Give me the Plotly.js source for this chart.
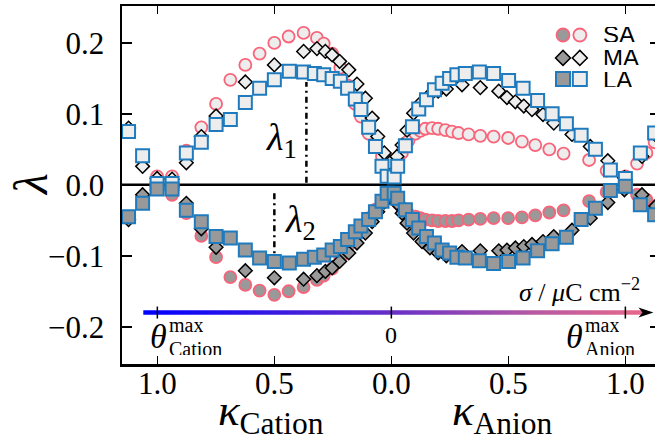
<!DOCTYPE html>
<html><head><meta charset="utf-8">
<script src="https://cdn.plot.ly/plotly-3.0.1.min.js"></script>
<style>html,body{margin:0;padding:0;overflow:hidden;background:#fff}#chart{width:665px;height:444px}</style>
</head><body><div id="chart"></div>
<script>
// kappa axis: negative values = cation side, positive = anion side
const saX = [-1.001,-0.937,-0.876,-0.812,-0.749,-0.688,-0.624,-0.563,-0.500,-0.439,-0.375,-0.318,-0.289,-0.253,-0.218,-0.187,-0.154,-0.130,-0.097,-0.068,-0.040,-0.015,
  0.015,0.030,0.045,0.058,0.073,0.103,0.124,0.145,0.174,0.200,0.231,0.259,0.287,0.330,0.380,0.437,0.499,0.558,0.615,0.675,0.736,0.845,0.920,1.000,1.050,1.090,1.125];
const saUpper = [0.012,0.012,0.048,0.081,0.114,0.148,0.169,0.185,0.200,0.209,0.214,0.207,0.199,0.185,0.165,0.140,0.114,0.096,0.072,0.053,0.040,0.034,
  0.025,0.035,0.045,0.054,0.062,0.072,0.076,0.079,0.080,0.079,0.077,0.075,0.073,0.071,0.069,0.068,0.066,0.061,0.056,0.050,0.044,0.035,0.020,0.012,0.030,0.045,0.060];
const saLower = [-0.006,-0.014,-0.040,-0.072,-0.102,-0.130,-0.141,-0.149,-0.155,-0.150,-0.144,-0.134,-0.128,-0.118,-0.103,-0.088,-0.072,-0.062,-0.047,-0.035,-0.024,-0.015,
  -0.018,-0.026,-0.032,-0.037,-0.041,-0.045,-0.047,-0.049,-0.050,-0.051,-0.051,-0.051,-0.050,-0.049,-0.048,-0.047,-0.047,-0.046,-0.043,-0.039,-0.036,-0.023,-0.010,-0.003,-0.014,-0.021,-0.030];

const maX = [-1.123,-1.063,-1.001,-0.937,-0.876,-0.812,-0.749,-0.624,-0.500,-0.375,-0.318,-0.282,-0.253,-0.221,-0.182,-0.147,-0.111,-0.082,-0.058,-0.030,-0.006,
  0.024,0.046,0.067,0.095,0.131,0.165,0.200,0.235,0.302,0.380,0.459,0.494,0.530,0.566,0.601,0.648,0.694,0.772,0.850,0.925,0.996,1.071,1.130];
const maUpper = [0.080,0.026,0.009,0.008,0.031,0.068,0.097,0.145,0.169,0.188,0.192,0.188,0.183,0.174,0.162,0.142,0.122,0.094,0.068,0.045,0.031,
  0.040,0.056,0.077,0.101,0.117,0.127,0.132,0.135,0.141,0.137,0.132,0.123,0.117,0.111,0.106,0.099,0.087,0.071,0.054,0.034,0.010,0.040,0.070];
const maLower = [-0.049,-0.014,0.000,-0.002,-0.026,-0.062,-0.088,-0.121,-0.131,-0.133,-0.128,-0.122,-0.117,-0.108,-0.096,-0.082,-0.068,-0.052,-0.038,-0.024,-0.012,
  -0.026,-0.040,-0.054,-0.068,-0.080,-0.089,-0.096,-0.100,-0.094,-0.093,-0.093,-0.092,-0.089,-0.087,-0.084,-0.080,-0.073,-0.064,-0.047,-0.025,-0.007,-0.014,-0.030];

const laX = [-1.123,-1.063,-1.001,-0.937,-0.876,-0.812,-0.749,-0.688,-0.624,-0.563,-0.500,-0.436,-0.375,-0.329,-0.289,-0.253,-0.218,-0.187,-0.154,-0.130,
  -0.097,-0.068,-0.040,-0.018,0.012,0.027,0.060,0.090,0.117,0.150,0.184,0.217,0.249,0.280,0.316,0.376,0.437,0.501,0.563,0.625,0.687,0.748,0.811,0.872,0.936,1.000,1.064,1.125];
const laUpper = [0.075,0.041,0.002,0.002,0.045,0.060,0.085,0.092,0.116,0.136,0.148,0.160,0.159,0.157,0.155,0.150,0.146,0.136,0.121,0.106,
  0.081,0.054,0.026,0.012,0.011,0.026,0.055,0.082,0.107,0.120,0.134,0.143,0.150,0.155,0.157,0.159,0.157,0.147,0.136,0.119,0.100,0.086,0.070,0.050,0.021,0.009,0.045,0.073];
const laLower = [-0.045,-0.026,-0.006,-0.006,-0.036,-0.052,-0.073,-0.075,-0.092,-0.103,-0.108,-0.110,-0.105,-0.102,-0.099,-0.092,-0.087,-0.077,-0.066,-0.058,
  -0.049,-0.038,-0.023,-0.012,-0.012,-0.019,-0.035,-0.049,-0.061,-0.073,-0.082,-0.092,-0.096,-0.102,-0.103,-0.107,-0.111,-0.108,-0.103,-0.093,-0.083,-0.074,-0.049,-0.033,-0.008,-0.002,-0.028,-0.042];

const kappaTickVals = [-1, -0.5, 0, 0.5, 1];
const kappaTickText = ['1.0', '0.5', '0.0', '0.5', '1.0'];
const lambdaTickVals = [-0.2, -0.1, 0, 0.1, 0.2];
const lambdaTickText = ['\u22120.2', '\u22120.1', '0.0', '0.1', '0.2'];
const sigmaTickVals = [-1, 0, 1];
const seriesNames = ['SA', 'MA', 'LA'];

const PINK = '#f8647a', BLUE = '#1f7bbd', LIGHT = '#ededed', GRAY = '#999999';
const SERIF = 'Liberation Serif, DejaVu Serif, serif';
const SANS = 'Liberation Sans, Arial, sans-serif';

const styles = {
  SA: {symbol: 'circle', size: 12, edge: PINK, w: 1.8},
  MA: {symbol: 'diamond', size: 10.5, edge: '#000000', w: 1.5},
  LA: {symbol: 'square', size: 13, edge: BLUE, w: 2}
};
function pts(x, y, name, fill) {
  const s = styles[name];
  return {x: x, y: y, type: 'scatter', mode: 'markers', showlegend: false, hoverinfo: 'skip',
    marker: {symbol: s.symbol, size: s.size, color: fill, line: {color: s.edge, width: s.w}}};
}

const arrowY = -0.18;
const traces = [
  {x: [-1.06, 1.09, 1.09, -1.06, -1.06], y: [arrowY - 0.0032, arrowY - 0.0032, arrowY + 0.0032, arrowY + 0.0032, arrowY - 0.0032],
   type: 'scatter', mode: 'lines', fill: 'toself', line: {width: 0, color: 'rgba(0,0,0,0)'}, hoverinfo: 'skip', showlegend: false,
   fillgradient: {type: 'horizontal', colorscale: [[0, '#0000ff'], [0.5, '#6a30c6'], [0.78, '#b85aa2'], [1, '#e8688a']]}},
  pts(saX, saUpper, 'SA', LIGHT), pts(saX, saLower, 'SA', GRAY),
  pts(maX, maUpper, 'MA', LIGHT), pts(maX, maLower, 'MA', GRAY),
  pts(laX, laUpper, 'LA', LIGHT), pts(laX, laLower, 'LA', GRAY)
];
// custom legend glyphs (filled + open) on an overlay axis in plot fraction
const legRowY = [0.919, 0.855, 0.796];
seriesNames.forEach((n, i) => {
  const s = styles[n];
  traces.push({x: [0.8197, 0.851], y: [legRowY[i], legRowY[i]], xaxis: 'x2', yaxis: 'y2', type: 'scatter', mode: 'markers',
    showlegend: false, hoverinfo: 'skip',
    marker: {symbol: s.symbol, size: s.size + 1, color: [GRAY, LIGHT], line: {color: s.edge, width: s.w}}});
});

const ann = [];
seriesNames.forEach((n, i) => ann.push({xref: 'paper', yref: 'paper', x: 0.893, y: legRowY[i], xanchor: 'left', yanchor: 'middle',
  height: 15, borderpad: 0, valign: 'middle',
  text: n, showarrow: false, font: {family: SANS, size: 24, color: '#000'}}));
ann.push({xref: 'paper', yref: 'paper', x: -0.171, y: 0.5, text: '<i>λ</i>', textangle: -90, showarrow: false,
  xanchor: 'center', yanchor: 'middle', font: {family: SERIF, size: 48, color: '#000'}});
ann.push({xref: 'paper', yref: 'paper', x: 0.277, y: -0.138, text: '<i>κ</i><sub>Cation</sub>', showarrow: false,
  xanchor: 'center', yanchor: 'middle', font: {family: SERIF, size: 45, color: '#000'}});
ann.push({xref: 'paper', yref: 'paper', x: 0.708, y: -0.138, text: '<i>κ</i><sub>Anion</sub>', showarrow: false,
  xanchor: 'center', yanchor: 'middle', font: {family: SERIF, size: 45, color: '#000'}});
ann.push({x: -0.47, y: 0.063, text: '<i>λ</i><sub>1</sub>', showarrow: false, xanchor: 'center', yanchor: 'middle',
  font: {family: SERIF, size: 38, color: '#000'}});
ann.push({x: -0.389, y: -0.052, text: '<i>λ</i><sub>2</sub>', showarrow: false, xanchor: 'center', yanchor: 'middle',
  font: {family: SERIF, size: 38, color: '#000'}});
ann.push({x: 0, y: -0.211, text: '0', showarrow: false, xanchor: 'center', yanchor: 'middle', font: {family: SERIF, size: 24, color: '#000'}});
const thetaSplit = -0.2140;
[[-0.953, 'Cation'], [0.825, 'Anion']].forEach(a => {
  ann.push({x: a[0], y: -0.214, text: '<i>θ</i>', showarrow: false, xanchor: 'right', yanchor: 'middle', borderpad: 0,
    font: {family: SERIF, size: 34, color: '#000'}});
  ann.push({x: a[0], y: thetaSplit, text: 'max', showarrow: false, xanchor: 'left', yanchor: 'bottom', borderpad: 0,
    height: 14, valign: 'bottom', font: {family: SERIF, size: 20, color: '#000'}});
  ann.push({x: a[0], y: thetaSplit, text: a[1], showarrow: false, xanchor: 'left', yanchor: 'top', borderpad: 0,
    height: 17, valign: 'top', font: {family: SERIF, size: 20, color: '#000'}});
});
ann.push({x: 1.073, y: -0.149, text: '<i>σ</i> / <i>μ</i>C cm<sup>\u22122</sup>', showarrow: false, xanchor: 'right', yanchor: 'middle',
  font: {family: SERIF, size: 26, color: '#000'}});

const shapes = [];
shapes.push({type: 'line', xref: 'paper', yref: 'y', x0: 0, x1: 1, y0: 0, y1: 0, layer: 'below', line: {color: '#000', width: 2.6}});
sigmaTickVals.forEach(v => shapes.push({type: 'line', xref: 'x', yref: 'y', x0: v, x1: v, ysizemode: 'pixel', yanchor: arrowY,
  y0: -6, y1: 6, line: {color: '#000', width: 1.5}}));
shapes.push({type: 'path', xref: 'x', yref: 'y', xsizemode: 'pixel', ysizemode: 'pixel', xanchor: 1.12, yanchor: arrowY,
  path: 'M0,0 L-15,5 L-11,0 L-15,-5 Z', fillcolor: '#000', line: {width: 0}});
shapes.push({type: 'line', xref: 'x', yref: 'y', x0: -0.363, x1: -0.363, y0: 0.003, y1: 0.145, line: {color: '#000', width: 2.5, dash: '6px,4px,2px,4px'}});
shapes.push({type: 'line', xref: 'x', yref: 'y', x0: -0.5, x1: -0.5, y0: -0.012, y1: -0.099, line: {color: '#000', width: 2.5, dash: '6px,4px,2px,4px'}});

const layout = {
  width: 665, height: 444,
  margin: {l: 122, r: 5, t: 6, b: 80},
  paper_bgcolor: '#fff', plot_bgcolor: '#fff',
  showlegend: false, hovermode: false,
  xaxis: {range: [-1.151, 1.148], tickvals: kappaTickVals, ticktext: kappaTickText, ticks: 'inside', ticklen: 8, tickwidth: 1.5,
    tickcolor: '#000', showline: true, linecolor: '#000', linewidth: 2.5, mirror: 'ticks', showgrid: false, zeroline: false,
    tickfont: {family: SERIF, size: 31, color: '#000'}, ticklabelstandoff: -10},
  yaxis: {range: [-0.2525, 0.252], tickvals: lambdaTickVals, ticktext: lambdaTickText, ticks: 'inside', ticklen: 10, tickwidth: 1.5,
    tickcolor: '#000', showline: true, linecolor: '#000', linewidth: 2.5, mirror: 'ticks', showgrid: false, zeroline: false,
    tickfont: {family: SERIF, size: 31, color: '#000'}, ticklabelstandoff: 9},
  xaxis2: {overlaying: 'x', range: [0, 1], visible: false, fixedrange: true},
  yaxis2: {overlaying: 'y', range: [0, 1], visible: false, fixedrange: true},
  annotations: ann, shapes: shapes
};
Plotly.newPlot('chart', traces, layout, {staticPlot: true, displayModeBar: false});
</script></body></html>
